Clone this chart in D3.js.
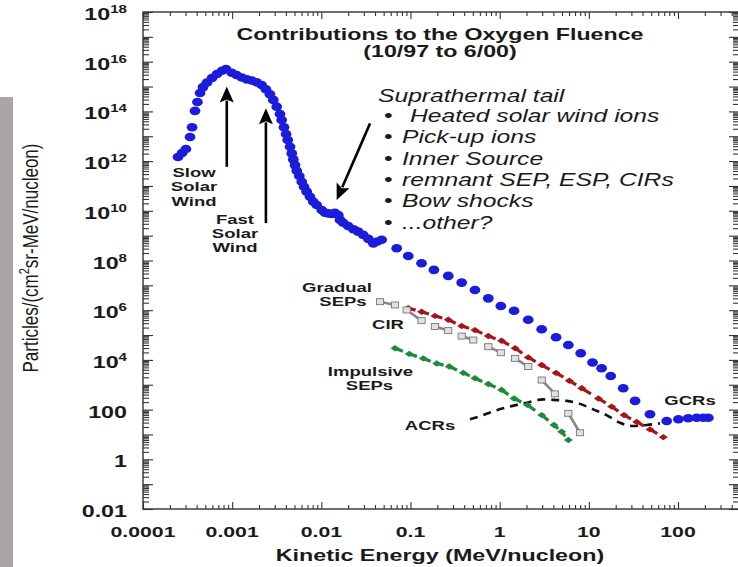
<!DOCTYPE html>
<html>
<head>
<meta charset="utf-8">
<script src="https://cdn.jsdelivr.net/npm/d3@7"></script>
<style>
  html, body { margin: 0; padding: 0; background: #fff; }
  svg { display: block; }
</style>
</head>
<body>
<div id="chart"></div>
<script>
// Oxygen fluence spectra, 10/97 to 6/00.
// Each point: [kinetic energy (MeV/nucleon), particles/(cm² sr MeV/nucleon)]

// Solar wind peak, suprathermal tail and galactic cosmic rays (blue dots)
const solarWindTailGCR = [
  [2.47e-4, 1.46e12], [2.74e-4, 2.12e12], [3.03e-4, 3.07e12], [3.37e-4, 9.3e12],
  [3.55e-4, 2.3e13], [3.83e-4, 1.05e14], [4.08e-4, 2.4e14], [4.36e-4, 5.5e14],
  [4.71e-4, 9.5e14], [5.22e-4, 1.45e15], [5.94e-4, 2.2e15], [6.76e-4, 3.2e15],
  [7.69e-4, 4.3e15], [8.53e-4, 5.1e15], [9.89e-4, 3.6e15], [1.12e-3, 2.9e15],
  [1.28e-3, 2.3e15], [1.46e-3, 1.95e15], [1.66e-3, 1.74e15], [1.88e-3, 1.48e15],
  [2.14e-3, 1.15e15], [2.39e-3, 7.8e14], [2.65e-3, 4.9e14], [2.89e-3, 2.9e14],
  [3.16e-3, 1.55e14], [3.44e-3, 7.9e13], [3.59e-3, 4.5e13], [3.81e-3, 2.3e13],
  [4.02e-3, 1.23e13], [4.20e-3, 7.1e12], [4.46e-3, 3.8e12], [4.66e-3, 2.04e12],
  [4.85e-3, 1.17e12], [5.07e-3, 6.9e11], [5.30e-3, 4.1e11], [5.66e-3, 2.5e11],
  [6.03e-3, 1.48e11], [6.40e-3, 9.3e10], [6.85e-3, 5.9e10], [7.46e-3, 3.7e10],
  [8.13e-3, 2.3e10], [8.87e-3, 1.7e10], [1.01e-2, 1.07e10], [1.10e-2, 8.3e9],
  [1.20e-2, 7.9e9], [1.31e-2, 7.4e9], [1.42e-2, 8.3e9], [1.55e-2, 6.8e9],
  [1.62e-2, 4.3e9], [1.76e-2, 3.3e9], [2.00e-2, 2.45e9], [2.29e-2, 1.82e9],
  [2.59e-2, 1.45e9], [2.96e-2, 1.07e9], [3.37e-2, 7.4e8], [3.83e-2, 4.9e8],
  [4.25e-2, 5.8e8], [4.75e-2, 6.8e8], [7.0e-2, 3.1e8], [9.44e-2, 1.51e8],
  [0.133, 7.8e7], [0.183, 4.2e7], [0.265, 2.4e7], [0.375, 1.29e7],
  [0.528, 6.5e6], [0.745, 3.0e6], [1.03, 1.48e6], [1.45, 9.5e5],
  [2.09, 4.1e5], [2.96, 1.7e5], [4.29, 8.1e4], [5.89, 4.0e4],
  [8.11, 1.86e4], [11.0, 7.9e3], [13.9, 4.6e3], [17.6, 2.24e3],
  [24.3, 720], [33.0, 224], [48.5, 65], [74.6, 35],
  [101, 41], [130, 45], [162, 47], [192, 47], [219, 47]
];

// Gradual solar energetic particle events (dark red)
const gradualSEPs = [
  [0.0944, 1.2e6], [0.133, 8.7e5], [0.188, 5.9e5], [0.265, 4.1e5],
  [0.375, 2.3e5], [0.528, 1.58e5], [0.745, 9.1e4], [1.05, 5.9e4],
  [1.49, 2.95e4], [2.09, 1.26e4], [2.96, 6.2e3], [4.29, 3.0e3],
  [6.04, 1450], [8.32, 720], [12.8, 280], [18.0, 132],
  [24.8, 60], [34.4, 32], [48.5, 16], [68.4, 7.8]
];

// Corotating interaction regions (grey squares)
const cirs = [
  [0.0455, 2.2e6], [0.067, 1.62e6], [0.0906, 1.02e6], [0.133, 3.8e5],
  [0.188, 2.2e5], [0.265, 1.51e5], [0.375, 9.1e4], [0.506, 6.3e4],
  [0.745, 3.4e4], [1.03, 1.95e4], [1.49, 1.15e4], [2.09, 5.4e3],
  [2.96, 1550], [4.17, 430], [5.89, 71], [7.96, 11.7]
];

// Impulsive solar energetic particle events (green)
const impulsiveSEPs = [
  [0.067, 2.95e4], [0.0968, 1.74e4], [0.139, 1.15e4], [0.197, 7.2e3],
  [0.272, 5.4e3], [0.391, 3.0e3], [0.528, 1.82e3], [0.745, 1.07e3],
  [1.05, 620], [1.45, 280], [2.04, 155], [2.96, 60],
  [4.06, 24], [4.95, 12.9], [5.89, 6.0]
];

// Anomalous cosmic rays (black dashed curve)
const acrs = [
  [0.465, 41], [0.655, 60], [0.927, 95], [1.36, 138], [2.01, 190],
  [3.08, 257], [3.66, 250], [5.65, 224], [7.96, 170], [11.2, 102],
  [15.8, 60], [22.3, 29.5], [31.6, 21.9], [44.6, 24], [62.8, 28]
];

const xTickValues = [1e-4, 1e-3, 1e-2, 0.1, 1, 10, 100];
const xTickLabels = ["0.0001", "0.001", "0.01", "0.1", "1", "10", "100"];
const yTickValues = [1e-2, 1, 1e2, 1e4, 1e6, 1e8, 1e10, 1e12, 1e14, 1e16, 1e18];
const yTickLabels = ["0.01", "1", "100", "10^4", "10^6", "10^8", "10^10", "10^12", "10^14", "10^16", "10^18"];

const titleLines = ["Contributions to the Oxygen Fluence", "(10/97 to 6/00)"];
const xTitle = "Kinetic Energy (MeV/nucleon)";
const tailHeading = "Suprathermal tail";
const tailSources = ["Heated solar wind ions", "Pick-up ions", "Inner Source",
                     "remnant SEP, ESP, CIRs", "Bow shocks", "...other?"];

// Arrows: [from, to] in data coordinates
const slowWindArrow = [[8.7e-4, 5.9e11], [8.7e-4, 1e15]];
const fastWindArrow = [[2.39e-3, 3.2e9], [2.39e-3, 1.33e14]];
const tailArrow = [[0.0352, 3.3e13], [0.01486, 2.7e10]];

// ---------------------------------------------------------------
const W = 738, H = 567;
const SX = 1.37;                       // horizontal stretch of the figure lettering
const FONT = "'Liberation Sans', Arial, Helvetica, sans-serif";
const INK = "#1a1a1a";

const svg = d3.select("#chart").append("svg")
  .attr("width", W).attr("height", H)
  .attr("viewBox", `0 0 ${W} ${H}`);

svg.append("rect").attr("width", W).attr("height", H).attr("fill", "#fff");

// grey strip on the left edge
svg.append("rect").attr("x", 0).attr("y", 97).attr("width", 13).attr("height", H - 97)
  .attr("fill", "#a9a6a5");

const plot = { left: 143, right: 739, top: 12, bottom: 509 };
const x = d3.scaleLog().domain([1e-4, 483]).range([plot.left, plot.right]);
const y = d3.scaleLog().domain([0.01, 1e18]).range([plot.bottom, plot.top]);

function stext(parent, px, py, str, o = {}) {
  return parent.append("text")
    .attr("transform", `translate(${px},${py}) scale(${o.sx ?? SX},1)`)
    .attr("text-anchor", o.anchor || "middle")
    .attr("font-family", o.family || FONT)
    .attr("font-size", o.size || 14)
    .attr("font-weight", o.weight || "bold")
    .attr("font-style", o.style || "normal")
    .attr("fill", o.fill || INK)
    .text(str);
}

// ---- tick marks (major decades + minor 2..9) ----
function logTicks(scale) {
  const [lo, hi] = scale.domain();
  const major = [], minor = [];
  for (let k = Math.floor(Math.log10(lo)); k <= Math.ceil(Math.log10(hi)); k++) {
    for (let m = 1; m <= 9; m++) {
      const v = m * Math.pow(10, k);
      if (v < lo * 0.999 || v > hi * 1.001) continue;
      (m === 1 ? major : minor).push(v);
    }
  }
  return { major, minor };
}
const xt = logTicks(x), yt = logTicks(y);
const axes = svg.append("g");

function ticks(axisFn, scale, values, len, tx, ty) {
  axes.append("g").attr("transform", `translate(${tx},${ty})`)
    .call(axisFn(scale).tickValues(values).tickSizeInner(-len).tickSizeOuter(0).tickFormat(""))
    .call(g => g.select(".domain").remove())
    .call(g => g.selectAll(".tick line").attr("stroke", "#333").attr("stroke-width", 1.1));
}
ticks(d3.axisLeft, y, yt.major, 10, plot.left, 0);
ticks(d3.axisLeft, y, yt.minor, 6, plot.left, 0);
ticks(d3.axisRight, y, yt.major, 10, plot.right, 0);
ticks(d3.axisRight, y, yt.minor, 6, plot.right, 0);
ticks(d3.axisBottom, x, xt.major, 7, 0, plot.bottom);
ticks(d3.axisBottom, x, xt.minor, 4, 0, plot.bottom);
ticks(d3.axisTop, x, xt.major, 7, 0, plot.top);
ticks(d3.axisTop, x, xt.minor, 4, 0, plot.top);

axes.append("rect")
  .attr("x", plot.left).attr("y", plot.top)
  .attr("width", plot.right - plot.left).attr("height", plot.bottom - plot.top)
  .attr("fill", "none").attr("stroke", "#333").attr("stroke-width", 1.4);

// ---- tick labels ----
xTickValues.forEach((v, i) => {
  stext(axes, x(v), 537, xTickLabels[i], { size: 15.5 });
});
yTickValues.forEach((v, i) => {
  const lab = yTickLabels[i];
  const t = stext(axes, 127, y(v) + 8, "", { size: 17, anchor: "end" });
  if (lab.includes("^")) {
    const [b, e] = lab.split("^");
    t.append("tspan").text(b);
    t.append("tspan").attr("dy", -7).attr("font-size", 11).text(e);
  } else {
    t.text(lab);
  }
});

// ---- axis titles ----
stext(svg, 440, 561, xTitle, { size: 17 });
const yTitle = svg.append("text")
  .attr("transform", "translate(38,258) scale(1.25,1) rotate(-90)")
  .attr("text-anchor", "middle")
  .attr("font-family", FONT).attr("font-size", 17).attr("fill", INK);
yTitle.append("tspan").text("Particles/(cm");
yTitle.append("tspan").attr("dy", -7).attr("font-size", 11).text("2");
yTitle.append("tspan").attr("dy", 7).text("sr-MeV/nucleon)");

// ---- title ----
stext(svg, 440, 40, titleLines[0], { size: 16, sx: 1.45 });
stext(svg, 440, 56.5, titleLines[1], { size: 16, sx: 1.45 });

// ---- data marks ----
const marks = svg.append("g");
const px = d => x(d[0]), py = d => y(d[1]);

// ACRs: smooth black dashed curve
marks.append("path")
  .datum(acrs)
  .attr("d", d3.line().x(px).y(py).curve(d3.curveMonotoneX))
  .attr("fill", "none").attr("stroke", "#111").attr("stroke-width", 2.6)
  .attr("stroke-dasharray", "8,6");

// dashed series drawn as a dash leaving each point plus a diamond on the point
function dashDiamonds(data, color) {
  const g = marks.append("g");
  const segs = data.slice(0, -1).map((d, i) => [d, data[i + 1]]);
  g.selectAll("line").data(segs).join("line")
    .attr("x1", s => px(s[0])).attr("y1", s => py(s[0]))
    .attr("x2", s => px(s[0]) + 0.55 * (px(s[1]) - px(s[0])))
    .attr("y2", s => py(s[0]) + 0.55 * (py(s[1]) - py(s[0])))
    .attr("stroke", color).attr("stroke-width", 3.2);
  g.selectAll("path").data(data).join("path")
    .attr("transform", d => `translate(${px(d)},${py(d)})`)
    .attr("d", "M-4.5,0L0,-3.2L4.5,0L0,3.2Z")
    .attr("fill", color);
}
dashDiamonds(gradualSEPs, "#a3161a");
dashDiamonds(impulsiveSEPs, "#1d8a3b");

// CIRs: grey squares joined in pairs
const cirG = marks.append("g");
const pairs = d3.range(0, cirs.length - 1, 2).map(i => [cirs[i], cirs[i + 1]]);
cirG.selectAll("line").data(pairs).join("line")
  .attr("x1", s => px(s[0])).attr("y1", s => py(s[0]))
  .attr("x2", s => px(s[1])).attr("y2", s => py(s[1]))
  .attr("stroke", "#8a8585").attr("stroke-width", 2.6);
cirG.selectAll("rect").data(cirs).join("rect")
  .attr("x", d => px(d) - 3.6).attr("y", d => py(d) - 3)
  .attr("width", 7.2).attr("height", 6)
  .attr("fill", "#e2e0e0").attr("stroke", "#777").attr("stroke-width", 0.9);

// Solar wind / suprathermal / GCR dots
marks.append("g").selectAll("ellipse").data(solarWindTailGCR).join("ellipse")
  .attr("cx", px).attr("cy", py)
  .attr("rx", 5.4).attr("ry", 4.3)
  .attr("fill", "#1c1cdc");

// ---- arrows ----
function arrow(a) {
  const [x1, y1, x2, y2] = [px(a[0]), py(a[0]), px(a[1]), py(a[1])];
  const ang = Math.atan2(y2 - y1, x2 - x1);
  const L = 16, Wd = 7;
  const bx = x2 - L * Math.cos(ang), by = y2 - L * Math.sin(ang);
  const nx = -Math.sin(ang), ny = Math.cos(ang);
  svg.append("line").attr("x1", x1).attr("y1", y1).attr("x2", bx + 2 * Math.cos(ang)).attr("y2", by + 2 * Math.sin(ang))
    .attr("stroke", "#000").attr("stroke-width", 2.6);
  svg.append("path")
    .attr("d", `M${x2},${y2}L${bx + Wd * nx},${by + Wd * ny}L${bx + 3 * Math.cos(ang)},${by + 3 * Math.sin(ang)}L${bx - Wd * nx},${by - Wd * ny}Z`)
    .attr("fill", "#000");
}
arrow(slowWindArrow);
arrow(fastWindArrow);
arrow(tailArrow);

// ---- annotations ----
const notes = svg.append("g");
function block(lines, xs, y0, lh) {
  lines.forEach((l, i) => stext(notes, xs[i], y0 + i * lh, l, { size: 13.5 }));
}
block(["Slow", "Solar", "Wind"], [194, 194, 194], 177, 14.3);
block(["Fast", "Solar", "Wind"], [235, 235, 235], 224, 14);
block(["Gradual", "SEPs"], [337, 343], 292, 14);
block(["CIR"], [388], 329, 0);
block(["Impulsive", "SEPs"], [370.5, 369.5], 376, 13.6);
block(["ACRs"], [430], 430, 0);
block(["GCRs"], [690], 405, 0);

// suprathermal tail list
const tail = svg.append("g");
stext(tail, 378, 102, tailHeading, { size: 18, weight: "normal", style: "italic", anchor: "start" });
tailSources.forEach((s, i) => {
  const by = 122 + i * 21.3;
  stext(tail, 384, by, "\u2022", { size: 18, weight: "normal", anchor: "start" });
  stext(tail, i === 0 ? 410 : 402, by, s, { size: 18, weight: "normal", style: "italic", anchor: "start" });
});
</script>
</body>
</html>
